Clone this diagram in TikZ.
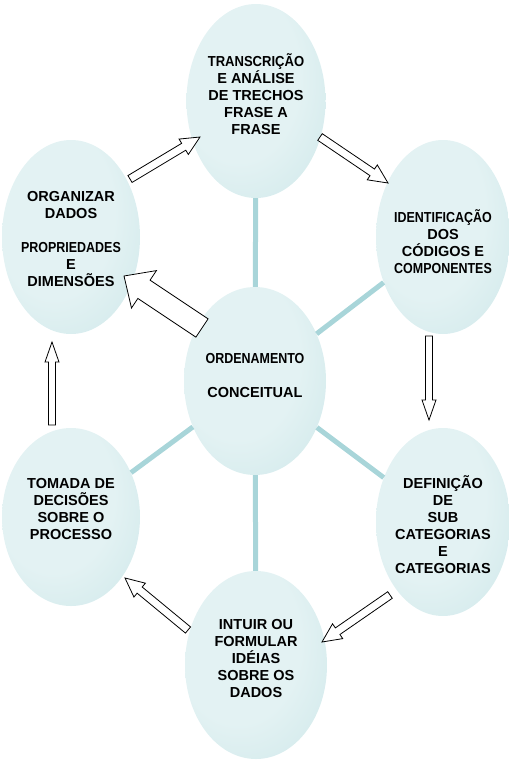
\documentclass[tikz,border=0pt]{standalone}
\usepackage{fontspec}
\setmainfont{Liberation Sans}
\usepackage{graphicx}
\usetikzlibrary{shapes.geometric,calc}

\definecolor{tealclaro}{HTML}{E3F2F3}
\definecolor{tealmeio}{HTML}{CDE7E9}
\definecolor{tealescuro}{HTML}{A3CFD5}
\definecolor{tealelo}{HTML}{A8D5D9}

\pgfdeclareradialshading{bolhaluz}{\pgfpoint{-10bp}{10bp}}{color(0bp)=(tealclaro); color(22bp)=(tealclaro); color(42bp)=(tealmeio); color(60bp)=(tealescuro)}

\tikzset{
  bolha/.style={ellipse, inner sep=0pt, shade, shading=bolhaluz},
  texto/.style={align=center, font=\bfseries\fontsize{14.5}{17}\selectfont, inner sep=0pt},
  elo/.style={draw=tealelo, line width=5pt},
  bloco/.style={draw=black, fill=white, line width=0.8pt, line join=miter}
}

% palavra apertada
\newcommand{\estreito}[2][0.86]{\scalebox{#1}[1]{#2}}
% seta de bloco: inicio, ponta, meia haste, meia cabeca, comprimento da cabeca
\newcommand{\blocoseta}[5]{%
  \coordinate (pescoco) at ($(#2)!#5!(#1)$);
  \draw[bloco] ($(#1)!#3!90:(#2)$) -- ($(pescoco)!#3!90:(#2)$) -- ($(pescoco)!#4!90:(#2)$) -- (#2)
    -- ($(pescoco)!#4!-90:(#2)$) -- ($(pescoco)!#3!-90:(#2)$) -- ($(#1)!#3!-90:(#2)$) -- cycle;}

\begin{document}
\begin{tikzpicture}[x=1pt, y=-1pt]
  \useasboundingbox (0,0) rectangle (509,780);

  % bolhas
  \node[bolha, minimum width=139pt, minimum height=194pt] (trans) at (256,101) {};
  \node[bolha, minimum width=134pt, minimum height=194pt] (ident) at (443,237) {};
  \node[bolha, minimum width=138pt, minimum height=194pt] (org) at (71,237) {};
  \node[bolha, minimum width=142pt, minimum height=188pt] (orden) at (255,381) {};
  \node[bolha, minimum width=134pt, minimum height=188pt] (defin) at (443,522) {};
  \node[bolha, minimum width=138pt, minimum height=178pt] (tomada) at (71,517) {};
  \node[bolha, minimum width=142pt, minimum height=188pt] (intuir) at (256,665) {};

  % textos
  \node[texto] (trans-txt) at ([yshift=7pt]trans.center) {\estreito[0.9]{TRANSCRIÇÃO}\\E ANÁLISE\\DE TRECHOS\\FRASE A\\FRASE};
  \node[texto] (ident-txt) at ([yshift=-5pt]ident.center) {\estreito{IDENTIFICAÇÃO}\\DOS\\CÓDIGOS E\\\estreito{COMPONENTES}};
  \node[texto] (org-txt) at ([yshift=-2pt]org.center) {ORGANIZAR\\DADOS\\[17pt]\estreito{PROPRIEDADES}\\E\\DIMENSÕES};
  \node[texto] (orden-txt) at ([yshift=5pt]orden.center) {\estreito{ORDENAMENTO}\\[17pt]CONCEITUAL};
  \node[texto] (defin-txt) at ([yshift=-3pt]defin.center) {DEFINIÇÃO\\DE\\SUB\\CATEGORIAS\\E\\CATEGORIAS};
  \node[texto] (tomada-txt) at ([yshift=8pt]tomada.center) {TOMADA DE\\DECISÕES\\SOBRE O\\PROCESSO};
  \node[texto] (intuir-txt) at ([yshift=7pt]intuir.center) {INTUIR OU\\FORMULAR\\IDÉIAS\\SOBRE OS\\DADOS};

  % ligacoes
  \draw[elo] (orden) -- (trans);
  \draw[elo] (orden) -- (ident);
  \draw[elo] (orden) -- (defin);
  \draw[elo] (orden) -- (intuir);
  \draw[elo] (orden) -- (tomada);

  % setas
  \coordinate (s1a) at (130,179); \coordinate (s1b) at (200,137);
  \coordinate (s2a) at (320,137); \coordinate (s2b) at (388,183);
  \coordinate (s3a) at (429,336); \coordinate (s3b) at (429,420);
  \coordinate (s4a) at (390,595); \coordinate (s4b) at (322,642);
  \coordinate (s5a) at (188,630); \coordinate (s5b) at (125,578);
  \coordinate (s6a) at (52,425);  \coordinate (s6b) at (52,342);
  \coordinate (s7a) at (202,328); \coordinate (s7b) at (124,276);

  \blocoseta{s1a}{s1b}{4pt}{9pt}{19pt}
  \blocoseta{s2a}{s2b}{4pt}{9pt}{19pt}
  \blocoseta{s3a}{s3b}{3.5pt}{7pt}{20pt}
  \blocoseta{s4a}{s4b}{4pt}{9pt}{19pt}
  \blocoseta{s5a}{s5b}{4pt}{9pt}{19pt}
  \blocoseta{s6a}{s6b}{3.5pt}{7pt}{20pt}
  \blocoseta{s7a}{s7b}{11pt}{22.5pt}{24pt}
\end{tikzpicture}
\end{document}
